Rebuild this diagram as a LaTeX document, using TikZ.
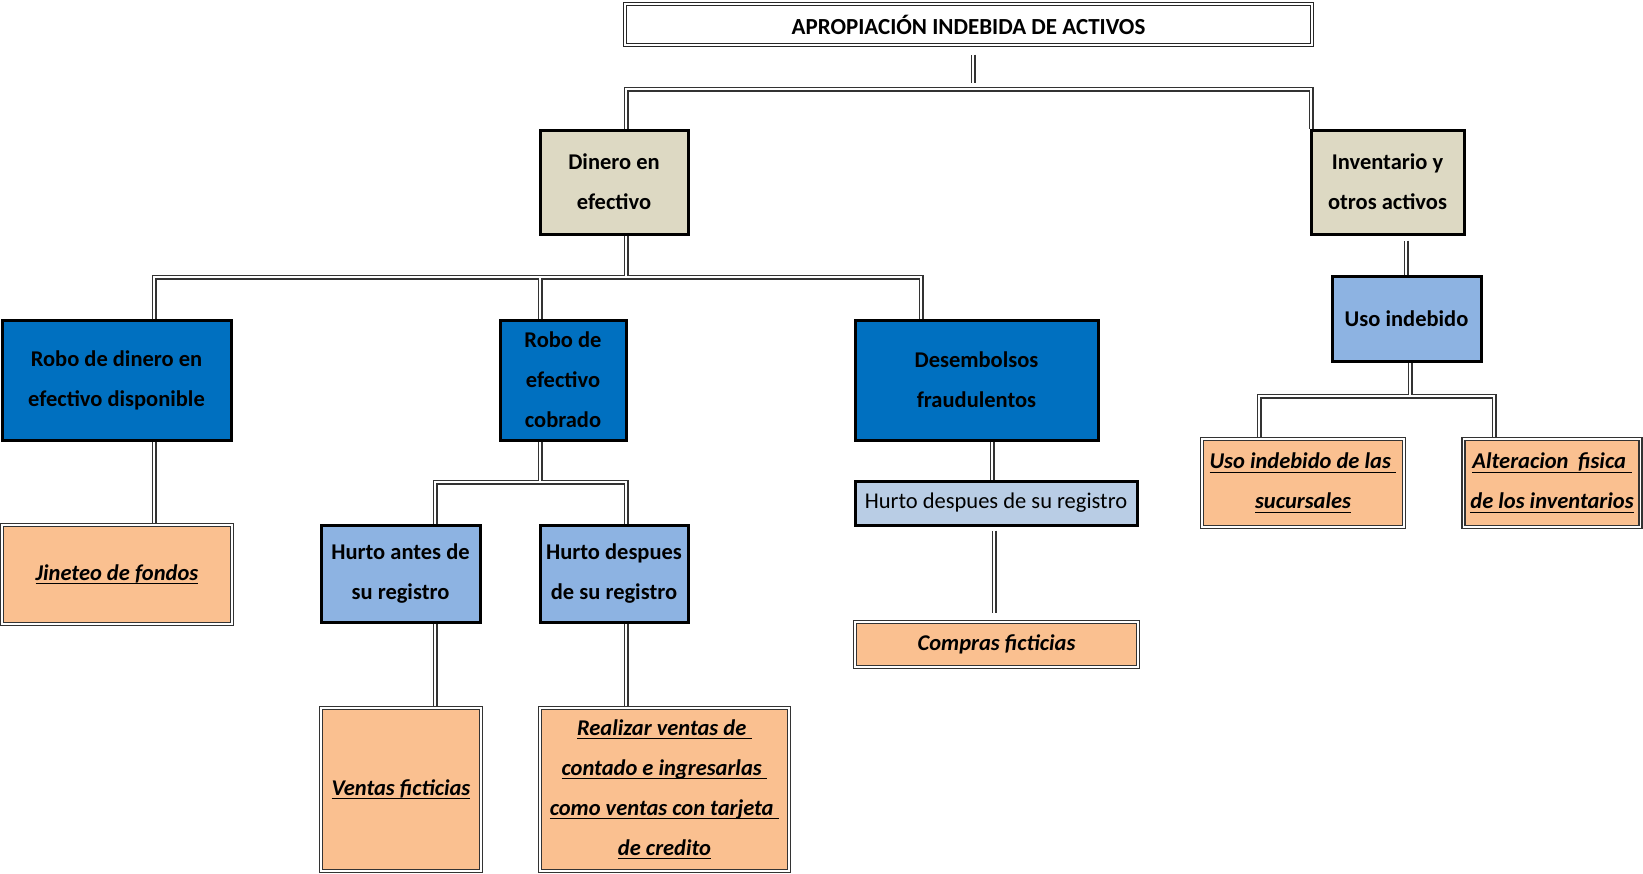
\documentclass[tikz,border=0pt]{standalone}
\usepackage{fontspec}
\setmainfont{Carlito}
\pgfdeclarelayer{background}
\pgfsetlayers{background,main}
\definecolor{cBeige}{HTML}{DDD9C3}
\definecolor{cDark}{HTML}{0070C0}
\definecolor{cLight}{HTML}{8DB3E2}
\definecolor{cPale}{HTML}{B9CDE5}
\definecolor{cOrange}{HTML}{FAC090}
\newcommand\myul[1]{\setbox0\hbox{#1}\rlap{\rule[-4pt]{\wd0}{1.3pt}}\box0}
\tikzset{
  box/.style={draw=black, line width=3pt, inner sep=0pt, align=center,
    font=\bfseries\fontsize{22.5}{40}\selectfont, text=black},
  beige/.style={box, fill=cBeige},
  dblue/.style={box, fill=cDark},
  lblue/.style={box, fill=cLight},
  pblue/.style={box, fill=cPale, font=\fontsize{22.5}{40}\selectfont},
  obox/.style={draw=black!80, line width=1.3pt, double=white, double distance=1.6pt,
    fill=cOrange, inner sep=0pt, align=center,
    font=\bfseries\itshape\fontsize{22.5}{40}\selectfont},
  tbox/.style={draw=black!85, line width=1.3pt, double=white, double distance=1.6pt,
    fill=white, inner sep=0pt, align=center, font=\bfseries\fontsize{23}{28}\selectfont},
  couter/.style={draw=black!80, line width=5pt, line join=miter},
  cinner/.style={draw=white, line width=1.8pt, line join=miter},
}
\newcommand\allconns[1]{%
  \draw[#1] (title.south -| t) ++(0,9) -- (t);
  \draw[#1] (dinero.north -| b1) -- (b1) -- (b2) -- (inv.north -| b2);
  \draw[#1] (dinero.south -| d1) -- (d1);
  \draw[#1] (robo1.north -| d2) -- (d2) -- (d3) -- (desemb.north -| d3);
  \draw[#1] (d4) -- (robo2.north -| d4);
  \draw[#1] (robo1.south -| d2) -- (jinet.north -| d2);
  \draw[#1] (robo2.south -| e1) -- (e1);
  \draw[#1] (hantes.north -| e2) -- (e2) -- (e3) -- (hdesp.north -| e3);
  \draw[#1] (hantes.south -| e2) -- (ventas.north -| e2);
  \draw[#1] (hdesp.south -| e3) -- (realizar.north -| e3);
  \draw[#1] (desemb.south -| f1) -- (hdesp2.north -| f1);
  \draw[#1] (hdesp2.south -| f2) ++(0,4) -- (f2);
  \draw[#1] (inv.south -| g1) ++(0,5) -- (uso.north -| g1);
  \draw[#1] (uso.south -| h1) -- (h1);
  \draw[#1] (usosuc.north -| h2) -- (h2) -- (h3) -- (alter.north -| h3);
}
\begin{document}
\begin{tikzpicture}[x=1pt,y=-1pt]
\useasboundingbox (0,0) rectangle (1643,873);

\node[tbox, minimum width=687pt, minimum height=41pt] (title) at (968.5,24.5) {APROPIACIÓN INDEBIDA DE ACTIVOS};

\node[beige, minimum width=148pt, minimum height=104pt] (dinero) at (614,182) {Dinero en\\efectivo};
\node[beige, minimum width=153pt, minimum height=104pt] (inv) at (1387.5,182) {Inventario y\\otros activos};

\node[dblue, minimum width=229pt, minimum height=120pt] (robo1) at (116.5,380) {Robo de dinero en\\efectivo disponible};
\node[dblue, minimum width=126pt, minimum height=120pt] (robo2) at (563,380) {Robo de\\efectivo\\cobrado};
\node[dblue, minimum width=243pt, minimum height=120pt] (desemb) at (976.5,380) {Desembolsos\\fraudulentos};

\node[obox, minimum width=230pt, minimum height=99pt] (jinet) at (117,574.5) {\myul{Jineteo de fondos}};

\node[lblue, minimum width=159pt, minimum height=97pt] (hantes) at (400.5,573.5) {Hurto antes de\\su registro};
\node[lblue, minimum width=148pt, minimum height=97pt] (hdesp) at (614,573.5) {Hurto despues\\de su registro};

\node[obox, minimum width=160pt, minimum height=163pt] (ventas) at (401,789.5) {\myul{Ventas ficticias}};
\node[obox, minimum width=249pt, minimum height=163pt] (realizar) at (664.5,789.5) {\myul{Realizar ventas de\hspace{0.25em}}\\\myul{contado e ingresarlas\hspace{0.25em}}\\\myul{como ventas con tarjeta\hspace{0.25em}}\\\myul{de credito}};

\node[pblue, minimum width=282pt, minimum height=44pt] (hdesp2) at (996,503) {Hurto despues de su registro};
\node[obox, minimum width=283pt, minimum height=45pt] (compras) at (996.5,644.5) {Compras ficticias};

\node[lblue, minimum width=149pt, minimum height=85pt] (uso) at (1406.5,318.5) {Uso indebido};
\node[obox, minimum width=202pt, minimum height=88pt] (usosuc) at (1303,483) {\myul{Uso indebido de las\hspace{0.25em}}\\\myul{sucursales}};
\node[obox, minimum width=177pt, minimum height=88pt] (alter) at (1552,483) {\myul{Alteracion\hspace{0.2em} fisica\hspace{0.25em}}\\\myul{de los inventarios}};

\coordinate (t) at (973,83);
\coordinate (b1) at (626,89);
\coordinate (b2) at (1311,89);
\coordinate (d1) at (626,277);
\coordinate (d2) at (154,277);
\coordinate (d3) at (921,277);
\coordinate (d4) at (540,277);
\coordinate (e1) at (540,482);
\coordinate (e2) at (435,482);
\coordinate (e3) at (626,482);
\coordinate (f1) at (992,460);
\coordinate (f2) at (994,613);
\coordinate (g1) at (1406,250);
\coordinate (h1) at (1410,396);
\coordinate (h2) at (1259,396);
\coordinate (h3) at (1494,396);

\begin{pgfonlayer}{background}
\fill[white] (0,0) rectangle (1643,873);
\allconns{couter}
\allconns{cinner}
\end{pgfonlayer}
\end{tikzpicture}
\end{document}
